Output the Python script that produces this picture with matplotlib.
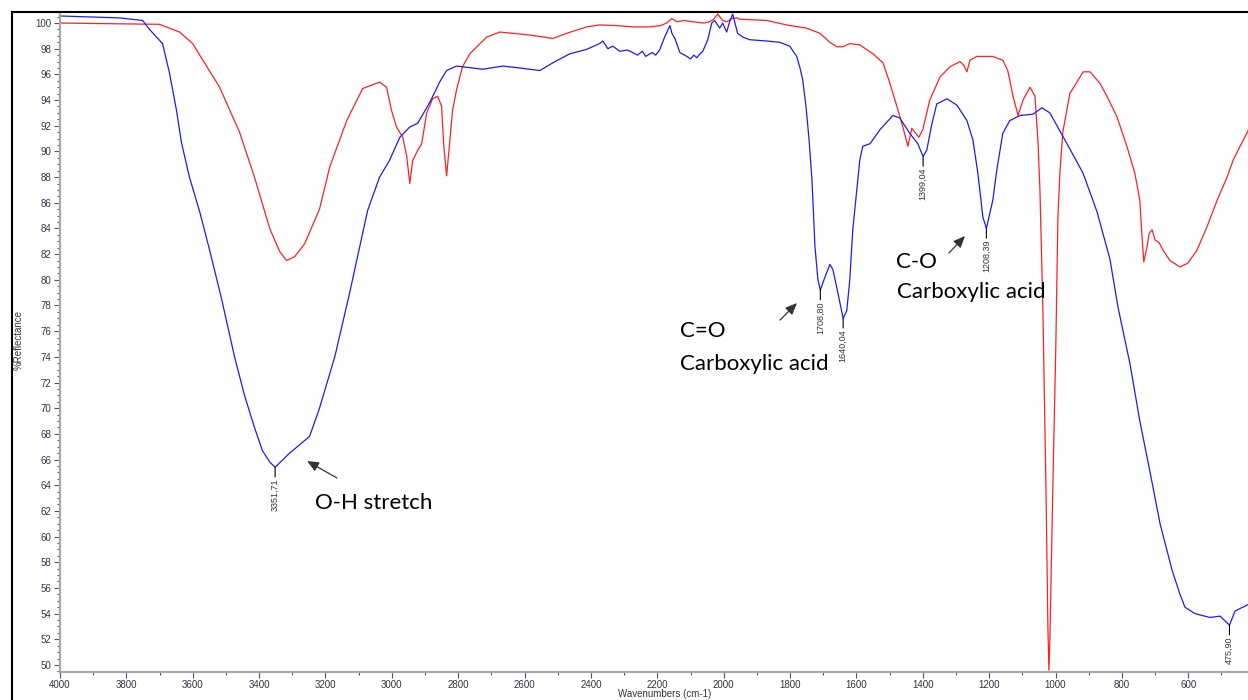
import matplotlib
matplotlib.use("Agg")
import matplotlib.pyplot as plt
from matplotlib.ticker import MultipleLocator
from matplotlib.lines import Line2D
from matplotlib.patches import FancyArrowPatch

# ---------------- data ----------------
sample_wn = [4000, 3881, 3821, 3751, 3730, 3709, 3691, 3670, 3649, 3634, 3610, 3579, 3549,
             3513, 3474, 3444, 3414, 3390, 3368, 3351.71, 3308, 3248, 3218, 3172, 3127, 3073,
             3037, 3007, 2976, 2946, 2922, 2886, 2856, 2835, 2805, 2726, 2666, 2615, 2554,
             2515, 2464, 2413, 2374, 2364, 2349, 2334, 2313, 2290, 2274, 2260, 2245, 2235,
             2223, 2215, 2205, 2193, 2178, 2162,
             2156, 2147, 2132, 2111, 2100, 2090, 2081, 2075, 2063, 2048, 2036, 2027, 2012, 2003,
             1991, 1982, 1973, 1966, 1958, 1942, 1921, 1870, 1831, 1801, 1780, 1771, 1762, 1752,
             1743, 1734, 1725, 1716, 1708.80, 1695, 1680, 1671, 1656, 1640.04, 1629, 1620, 1611,
             1599, 1590, 1581, 1559, 1529, 1490, 1469, 1439, 1415, 1399.04, 1388, 1373, 1358,
             1327, 1297, 1267, 1249, 1234, 1219, 1208.39, 1189, 1177, 1159, 1138, 1107, 1068,
             1041, 1017, 987, 957, 917, 875, 836, 812, 776, 746, 715, 685, 649, 625, 610, 580,
             535, 504, 475.90, 459, 420]
sample_val = [100.55, 100.45, 100.4, 100.2, 99.5, 98.9, 98.4, 96.1, 93.2, 90.7, 88.0, 85.3, 82.3,
              78.5, 74.0, 71.0, 68.5, 66.7, 65.8, 65.4, 66.5, 67.8, 70.0, 74.0, 79.0, 85.4,
              88.0, 89.3, 91.1, 91.9, 92.2, 93.8, 95.4, 96.3, 96.65, 96.4, 96.65, 96.5, 96.3,
              96.9, 97.6, 97.95, 98.4, 98.6, 98.0, 98.2, 97.8, 97.9, 97.7, 97.5, 97.8, 97.4,
              97.6, 97.7, 97.5, 97.9, 98.9, 99.8,
              99.2, 98.8, 97.7, 97.4, 97.2, 97.5, 97.3, 97.5, 97.8, 98.7, 100.0, 100.2, 99.6, 100.0,
              99.3, 100.1, 100.7, 100.0, 99.2, 98.9, 98.7, 98.6, 98.5, 98.2, 97.4, 96.6, 95.6, 93.5,
              91.0, 87.8, 82.6, 80.0, 79.2, 80.2, 81.2, 80.8, 79.0, 77.0, 77.6, 80.0, 83.9,
              87.0, 89.3, 90.4, 90.6, 91.7, 92.8, 92.6, 91.4, 90.6, 89.6, 90.1, 92.1, 93.7,
              94.1, 93.6, 92.4, 90.9, 88.3, 84.9, 84.0, 86.2, 88.55, 91.4, 92.4, 92.8, 92.9,
              93.4, 93.0, 91.6, 90.2, 88.3, 85.3, 81.6, 77.9, 73.5, 69.0, 65.0, 61.0, 57.4, 55.5,
              54.5, 54.0, 53.7, 53.8, 53.1, 54.2, 54.7]

ref_wn = [4000, 3700, 3640, 3600, 3579, 3519, 3459, 3414, 3368, 3338, 3317, 3293, 3263, 3218,
          3187, 3136, 3088, 3037, 3016, 3001, 2986, 2967, 2955, 2946, 2937, 2922, 2910, 2895,
          2877, 2862, 2850, 2844, 2835, 2826, 2817, 2805, 2787, 2765, 2744, 2714, 2675, 2636,
          2585, 2515, 2473, 2413, 2374, 2322, 2274, 2223, 2190, 2172, 2156, 2141, 2120, 2093,
          2060, 2042, 2030, 2018, 2003, 1990, 1976, 1960, 1951, 1870, 1810, 1750, 1710, 1680,
          1659, 1641, 1620, 1590, 1550, 1520,
          1499, 1478, 1460, 1445, 1433, 1424, 1412, 1400, 1379, 1348, 1318, 1288, 1276, 1267,
          1258, 1237, 1189, 1159, 1144, 1128, 1113, 1098, 1077, 1062, 1053, 1047, 1038, 1029,
          1023, 1020, 1017, 1008, 999, 993, 987, 978, 957, 926, 917, 896, 866, 845, 815, 785,
          761, 746, 740, 734, 724, 718, 709, 700, 688, 676, 655, 625, 601, 574, 544, 513, 483,
          465, 444, 420]
ref_val = [100.0, 99.9, 99.3, 98.4, 97.5, 95.0, 91.5, 88.0, 84.0, 82.2, 81.5, 81.8, 82.8, 85.5,
           88.8, 92.4, 94.9, 95.4, 95.0, 93.2, 91.9, 91.1, 89.6, 87.5, 89.3, 90.1, 90.6, 93.0,
           94.1, 94.3, 93.5, 90.6, 88.1, 90.6, 93.2, 94.8, 96.6, 97.6, 98.15, 98.9, 99.3, 99.2,
           99.07, 98.8, 99.2, 99.7, 99.85, 99.8, 99.7, 99.7, 99.8, 100.0, 100.35, 100.1, 100.2, 100.1,
           100.0, 100.1, 100.3, 100.7, 100.2, 100.1, 100.35, 100.4, 100.3, 100.2, 99.85, 99.6, 99.2, 98.5,
           98.15, 98.15, 98.4, 98.3, 97.6, 96.9,
           95.3, 93.5, 91.9, 90.4, 91.8, 91.5, 91.1, 91.7, 94.0, 95.8, 96.6, 97.0, 96.7, 96.2,
           97.1, 97.4, 97.4, 97.1, 96.3, 94.3, 92.8, 94.0, 95.0, 94.3, 90.8, 87.0, 77.6, 64.0,
           53.0, 49.6, 52.0, 64.0, 75.0, 84.7, 88.3, 91.5, 94.5, 95.8, 96.2, 96.2, 95.3, 94.3,
           92.7, 90.4, 88.3, 86.2, 83.6, 81.4, 82.6, 83.6, 83.9, 83.1, 82.9, 82.3, 81.5, 81.0,
           81.3, 82.3, 84.1, 86.2, 88.0, 89.3, 90.4, 91.6]

peak_wn = [3351.71, 1708.80, 1640.04, 1399.04, 1208.39, 475.90]
peak_val = [65.4, 79.2, 77.0, 89.6, 84.0, 53.1]
peak_labels = ["3351,71", "1708,80", "1640,04", "1399,04", "1208,39", "475,90"]

x_ticks = [4000, 3800, 3600, 3400, 3200, 3000, 2800, 2600, 2400, 2200, 2000, 1800, 1600,
           1400, 1200, 1000, 800, 600]
y_ticks = list(range(50, 101, 2))

# ---------------- figure ----------------
W, H = 1248, 700
fig = plt.figure(figsize=(W / 100, H / 100), dpi=100)
fig.patch.set_facecolor("white")


def fp(x, y):
    return (x / W, 1 - y / H)


ax = fig.add_axes([60 / W, 1 - 672 / H, 1 - 60 / W, (672 - 12) / H])
ax.set_xlim(4000, 420)
ax.set_ylim(49.45, 100.86)

ax.plot(ref_wn, ref_val, color="#ff2020", lw=0.9)
ax.plot(sample_wn, sample_val, color="#1a1aff", lw=0.9)

ax.set_xticks(x_ticks)
ax.set_xticklabels([str(t) for t in x_ticks])
ax.set_yticks(y_ticks)
ax.set_yticklabels([str(t) for t in y_ticks])
ax.xaxis.set_minor_locator(MultipleLocator(100))
ax.yaxis.set_minor_locator(MultipleLocator(0.5))

for s in ["top", "right"]:
    ax.spines[s].set_visible(False)
for s in ["left", "bottom"]:
    ax.spines[s].set_color("#a8a8a8")
    ax.spines[s].set_linewidth(1.6)

ax.tick_params(axis="both", which="major", length=4, width=0.8, color="#555555",
               labelsize=7, labelcolor="#333344", pad=2)
ax.tick_params(axis="both", which="minor", length=2, width=0.8, color="#555555")
for lab in ax.get_xticklabels() + ax.get_yticklabels():
    lab.set_fontfamily("Liberation Sans")

# axis titles
fig.text(665 / W, 1 - 689 / H, "Wavenumbers (cm-1)", ha="center", va="top",
         fontsize=7, color="#333344", family="Liberation Sans")
fig.text(19 / W, 1 - 340 / H, "%Reflectance", ha="center", va="center", rotation=90,
         fontsize=7, color="#333344", family="Liberation Sans")

# peak labels
for wn, v, lab in zip(peak_wn, peak_val, peak_labels):
    ax.annotate("", xy=(wn, v), xytext=(0, -7), textcoords="offset points",
                arrowprops=dict(arrowstyle="-", color="black", lw=0.8, shrinkA=0, shrinkB=0))
    ax.annotate(lab, xy=(wn, v), xytext=(0, -8), textcoords="offset points",
                rotation=90, ha="center", va="top", fontsize=6.5, color="#333333",
                family="Liberation Sans")

# annotations
txt_kw = dict(fontsize=16, family="Lato", color="black", va="center", ha="left")
fig.text(*fp(315, 503), "O-H stretch", **txt_kw)
fig.text(*fp(680, 331), "C=O", **txt_kw)
fig.text(*fp(680, 364), "Carboxylic acid", **txt_kw)
fig.text(*fp(896, 262), "C-O", **txt_kw)
fig.text(*fp(897, 292), "Carboxylic acid", **txt_kw)

arrow_kw = dict(arrowstyle="-|>,head_length=0.7,head_width=0.3", color="#333333", lw=0.9,
                shrinkA=0, shrinkB=0, mutation_scale=10)
for tail, head in [((337, 478), (307, 461)), ((780, 320), (797, 303)), ((949, 253), (965, 236))]:
    fig.add_artist(FancyArrowPatch(fp(*tail), fp(*head), transform=fig.transFigure, **arrow_kw))

# outer frame (screenshot border)
fig.add_artist(Line2D([12 / W, 12 / W], [0, 1 - 12 / H], transform=fig.transFigure,
                      color="black", lw=1.5))
fig.add_artist(Line2D([12 / W, 1], [1 - 12 / H, 1 - 12 / H], transform=fig.transFigure,
                      color="black", lw=1.5))

fig.savefig("out.png", dpi=100)
